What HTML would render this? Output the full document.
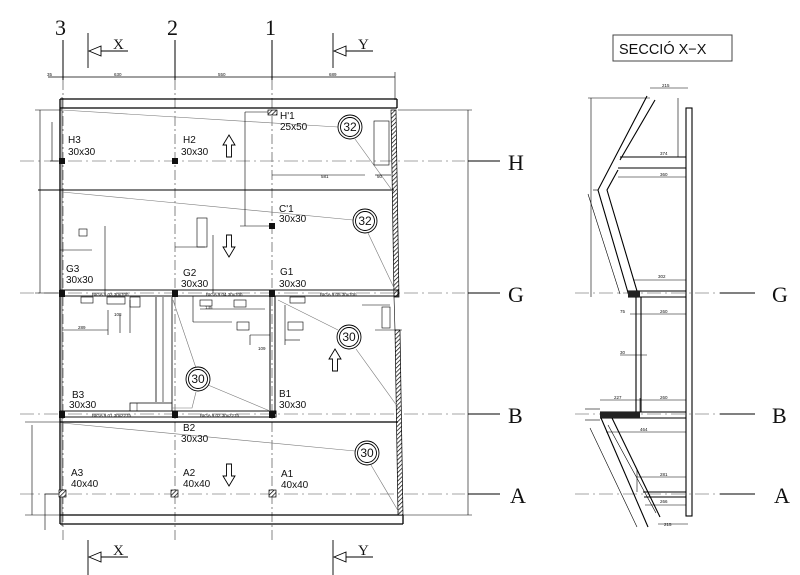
<!DOCTYPE html>
<html><head><meta charset="utf-8"><style>
html,body{margin:0;padding:0;background:#fff;}
svg{display:block;}
text{font-family:"Liberation Sans",sans-serif;fill:#111;}
.s text{font-family:"Liberation Serif",serif;}
</style></head><body>
<svg width="800" height="575" viewBox="0 0 800 575" xmlns="http://www.w3.org/2000/svg">
<defs>
<pattern id="h" width="3" height="3" patternUnits="userSpaceOnUse" patternTransform="rotate(45)">
<rect width="3" height="3" fill="#fff"/><line x1="0" y1="0" x2="0" y2="3" stroke="#000" stroke-width="1.4"/></pattern>
</defs>
<g fill="none" stroke="#000">
<g stroke-width="1">
<line x1="63" y1="40" x2="63" y2="80"/><line x1="175" y1="40" x2="175" y2="80"/><line x1="272" y1="40" x2="272" y2="80"/>
</g>
<g stroke="#666" stroke-width="0.8" stroke-dasharray="10,3,2,3">
<line x1="63" y1="80" x2="63" y2="540"/><line x1="175" y1="80" x2="175" y2="540"/><line x1="272" y1="80" x2="272" y2="540"/>
</g>
<g stroke="#888" stroke-width="0.8" stroke-dasharray="14,4,2,4">
<line x1="20" y1="161" x2="465" y2="161"/><line x1="20" y1="293" x2="465" y2="293"/><line x1="20" y1="414" x2="465" y2="414"/><line x1="20" y1="494" x2="465" y2="494"/>
<line x1="575" y1="293" x2="720" y2="293"/><line x1="575" y1="414" x2="720" y2="414"/><line x1="575" y1="494" x2="720" y2="494"/>
</g>
<g stroke-width="1">
<line x1="468" y1="161" x2="500" y2="161"/><line x1="468" y1="293" x2="500" y2="293"/><line x1="468" y1="414" x2="500" y2="414"/><line x1="468" y1="494" x2="500" y2="494"/>
<line x1="720" y1="293" x2="755" y2="293"/><line x1="720" y1="414" x2="755" y2="414"/><line x1="720" y1="494" x2="755" y2="494"/>
</g>
<g stroke-width="0.9">
<line x1="88" y1="33" x2="88" y2="68"/><path d="M89 51 L101 46 L101 56 Z"/><line x1="101" y1="51" x2="128" y2="51"/>
<line x1="333" y1="33" x2="333" y2="68"/><path d="M334 51 L346 46 L346 56 Z"/><line x1="346" y1="51" x2="373" y2="51"/>
<line x1="88" y1="540" x2="88" y2="575"/><path d="M89 557 L101 552 L101 562 Z"/><line x1="101" y1="557" x2="128" y2="557"/>
<line x1="333" y1="540" x2="333" y2="575"/><path d="M334 557 L346 552 L346 562 Z"/><line x1="346" y1="557" x2="373" y2="557"/>
</g>
<line x1="48" y1="77" x2="395" y2="77" stroke-width="0.8"/>
<line x1="395" y1="72" x2="395" y2="100" stroke-width="0.6"/>
<g stroke-width="1.3">
<line x1="60" y1="99" x2="397" y2="99"/><line x1="60" y1="108" x2="397" y2="108"/>
<line x1="60" y1="99" x2="60" y2="524"/>
<line x1="397" y1="99" x2="397" y2="108"/>
<line x1="60" y1="515" x2="402" y2="515"/><line x1="60" y1="524" x2="403" y2="524"/>
<line x1="403" y1="515" x2="403" y2="524"/>
</g>
<line x1="62" y1="97" x2="62" y2="526" stroke-width="0.6"/>
<polygon points="391,110 396,110 399,297 394,297" fill="url(#h)" stroke-width="0.7"/>
<polygon points="395,330 400,330 403,515 398,515" fill="url(#h)" stroke-width="0.7"/>
<line x1="394" y1="297" x2="395" y2="330" stroke-width="0.6"/>
<line x1="38" y1="190" x2="394" y2="190" stroke-width="1"/>
<rect x="60" y="290" width="338" height="6" stroke-width="0.9"/>
<rect x="60" y="411" width="216" height="6" stroke-width="0.9"/>
<line x1="60" y1="422" x2="398" y2="422" stroke-width="1.2"/>
<line x1="270" y1="296" x2="270" y2="414" stroke-width="1"/><line x1="275" y1="296" x2="275" y2="414" stroke-width="1"/>
<line x1="156" y1="297" x2="156" y2="402" stroke-width="0.8"/><line x1="163" y1="297" x2="163" y2="402" stroke-width="0.6"/><line x1="172" y1="297" x2="172" y2="411" stroke-width="0.8"/>
<polyline points="130,411 130,403 172,403" stroke-width="0.7"/><line x1="137" y1="403" x2="137" y2="411" stroke-width="0.5"/>
<g stroke="#777" stroke-width="0.6">
<line x1="62" y1="110" x2="338" y2="127"/><line x1="355" y1="139" x2="394" y2="193"/>
<line x1="62" y1="192" x2="353" y2="220"/><line x1="368" y1="233" x2="396" y2="292"/>
<line x1="278" y1="300" x2="338" y2="330"/><line x1="356" y1="349" x2="400" y2="410"/>
<line x1="173" y1="300" x2="196" y2="368"/><line x1="208" y1="385" x2="270" y2="411"/><polyline points="196,392 192,408 172,408"/>
<line x1="62" y1="423" x2="355" y2="451"/><line x1="371" y1="465" x2="400" y2="514"/>
</g>
<g stroke-width="0.6">
<line x1="40" y1="110" x2="40" y2="293"/><line x1="35" y1="110" x2="62" y2="110"/><line x1="35" y1="293" x2="60" y2="293"/>
<line x1="52" y1="122" x2="52" y2="161"/><line x1="50" y1="161" x2="62" y2="161"/>
<line x1="245" y1="112" x2="245" y2="226"/><line x1="245" y1="112" x2="268" y2="112"/><line x1="240" y1="226" x2="270" y2="226"/>
<line x1="272" y1="175" x2="365" y2="175"/><line x1="375" y1="175" x2="391" y2="175"/>
<rect x="374" y="121" width="15" height="44"/>
<line x1="105" y1="226" x2="105" y2="293"/><line x1="60" y1="250" x2="92" y2="250"/><rect x="79" y="229" width="8" height="7"/>
<line x1="213" y1="235" x2="213" y2="293"/><line x1="175" y1="247" x2="205" y2="247"/><rect x="197" y="218" width="10" height="29"/>
<line x1="468" y1="110" x2="468" y2="515"/><line x1="398" y1="110" x2="472" y2="110"/><line x1="403" y1="515" x2="472" y2="515"/>
<line x1="32" y1="425" x2="32" y2="515"/><line x1="25" y1="422" x2="60" y2="422"/><line x1="25" y1="515" x2="60" y2="515"/>
<line x1="45" y1="494" x2="60" y2="494"/><line x1="45" y1="494" x2="45" y2="530"/>
<line x1="62" y1="330" x2="108" y2="330"/><line x1="108" y1="310" x2="108" y2="335"/>
<line x1="120" y1="315" x2="120" y2="333"/><line x1="130" y1="300" x2="130" y2="333"/>
<rect x="107" y="297" width="18" height="7"/><rect x="130" y="297" width="10" height="10"/><rect x="81" y="297" width="12" height="6"/>
<line x1="193" y1="322" x2="232" y2="322"/><line x1="193" y1="296" x2="193" y2="322"/>
<line x1="200" y1="309" x2="265" y2="309"/><rect x="234" y="300" width="12" height="7"/><rect x="200" y="300" width="12" height="6"/>
<rect x="237" y="322" width="12" height="8"/><line x1="250" y1="335" x2="270" y2="335"/><line x1="250" y1="335" x2="250" y2="345"/>
<rect x="290" y="297" width="15" height="6"/><rect x="288" y="322" width="15" height="8"/>
<line x1="285" y1="340" x2="300" y2="340"/><line x1="285" y1="305" x2="285" y2="345"/>
<rect x="382" y="307" width="8" height="21"/><line x1="362" y1="305" x2="390" y2="305"/><line x1="375" y1="330" x2="402" y2="330"/>
</g>
<g stroke-width="0.9" fill="#fff">
<circle cx="350" cy="127" r="12"/><circle cx="350" cy="127" r="9.5"/>
<circle cx="365" cy="221" r="12"/><circle cx="365" cy="221" r="9.5"/>
<circle cx="349" cy="337" r="12"/><circle cx="349" cy="337" r="9.5"/>
<circle cx="198" cy="379" r="12"/><circle cx="198" cy="379" r="9.5"/>
<circle cx="367" cy="453" r="12"/><circle cx="367" cy="453" r="9.5"/>
</g>
<g stroke-width="0.9" fill="#fff">
<path d="M229 135 L235 145 L231.5 145 L231.5 157 L226.5 157 L226.5 145 L223 145 Z"/>
<path d="M229 257 L235 247 L231.5 247 L231.5 235 L226.5 235 L226.5 247 L223 247 Z"/>
<path d="M335 349 L341 359 L337.5 359 L337.5 371 L332.5 371 L332.5 359 L329 359 Z"/>
<path d="M229 486 L235 476 L231.5 476 L231.5 464 L226.5 464 L226.5 476 L223 476 Z"/>
</g>
<g fill="#111" stroke="none">
<rect x="59" y="158" width="6" height="6"/><rect x="172" y="158" width="6" height="6"/><rect x="269" y="223" width="6" height="6"/>
<rect x="59" y="290" width="6" height="7"/><rect x="172" y="290" width="6" height="7"/><rect x="269" y="290" width="6" height="7"/>
<rect x="59" y="411" width="6" height="7"/><rect x="172" y="411" width="6" height="7"/><rect x="269" y="411" width="6" height="7"/>
</g>
<g fill="url(#h)" stroke-width="0.7">
<rect x="59" y="490" width="7" height="7"/><rect x="171" y="490" width="7" height="7"/><rect x="269" y="490" width="7" height="7"/>
<rect x="268" y="110" width="9" height="5"/>
</g>
<rect x="613" y="35" width="119" height="26" stroke-width="1" stroke="#444"/>
<g stroke-width="1.1">
<rect x="686" y="108" width="6" height="408"/>
<polyline points="647,96 598,190 629,296"/>
<polyline points="655,100 620,160"/>
<line x1="620" y1="157" x2="686" y2="157"/><line x1="618" y1="168" x2="686" y2="168"/>
<polyline points="618,170 607,190 637,291"/>
<line x1="628" y1="291" x2="686" y2="291"/><line x1="628" y1="297" x2="686" y2="297"/>
<line x1="636" y1="297" x2="636" y2="412"/><line x1="641" y1="297" x2="641" y2="412"/>
<line x1="600" y1="412" x2="686" y2="412"/><line x1="600" y1="418" x2="686" y2="418"/>
<line x1="601" y1="418" x2="648" y2="527"/><line x1="612" y1="418" x2="660" y2="517"/>
<line x1="643" y1="492" x2="686" y2="492"/><line x1="644" y1="497" x2="686" y2="497"/>
</g>
<rect x="628" y="291" width="12" height="6" fill="#222" stroke="none"/>
<rect x="600" y="412" width="40" height="6" fill="#222" stroke="none"/>
<g stroke-width="0.6">
<line x1="591" y1="98" x2="591" y2="297"/><line x1="588" y1="98" x2="650" y2="98"/>
<line x1="593" y1="190" x2="598" y2="190"/>
<line x1="678" y1="98" x2="678" y2="157"/><line x1="650" y1="88" x2="688" y2="88"/>
<line x1="618" y1="177" x2="686" y2="177"/><line x1="633" y1="280" x2="686" y2="280"/>
<line x1="630" y1="314" x2="686" y2="314"/><line x1="620" y1="355" x2="647" y2="355"/>
<line x1="600" y1="400" x2="686" y2="400"/><line x1="640" y1="398" x2="640" y2="412"/>
<line x1="606" y1="432" x2="686" y2="432"/><line x1="637" y1="477" x2="686" y2="477"/><line x1="637" y1="470" x2="637" y2="492"/>
<line x1="645" y1="505" x2="686" y2="505"/><line x1="658" y1="524" x2="688" y2="524"/>
<line x1="590" y1="428" x2="637" y2="527"/><line x1="608" y1="425" x2="656" y2="513"/>
<line x1="585" y1="409" x2="600" y2="409"/><line x1="585" y1="420" x2="600" y2="420"/>
<line x1="588" y1="194" x2="620" y2="294"/>
</g>
</g>
<g class="s" font-size="22">
<text x="55" y="35">3</text><text x="167" y="35">2</text><text x="265" y="35">1</text>
<text x="508" y="170">H</text><text x="508" y="302">G</text><text x="508" y="423">B</text><text x="510" y="503">A</text>
<text x="772" y="302">G</text><text x="772" y="423">B</text><text x="774" y="503">A</text>
</g>
<g class="s" font-size="15">
<text x="113" y="49">X</text><text x="358" y="49">Y</text>
<text x="113" y="555">X</text><text x="358" y="555">Y</text>
</g>
<text x="619" y="54" font-size="14.5">SECCIÓ X−X</text>
<g font-size="10">
<text x="68" y="143">H3</text><text x="68" y="155">30x30</text>
<text x="183" y="143">H2</text><text x="181" y="155">30x30</text>
<text x="280" y="119">H'1</text><text x="280" y="130">25x50</text>
<text x="279" y="212">C'1</text><text x="279" y="222">30x30</text>
<text x="66" y="272">G3</text><text x="66" y="283">30x30</text>
<text x="183" y="276">G2</text><text x="181" y="287">30x30</text>
<text x="280" y="275">G1</text><text x="279" y="287">30x30</text>
<text x="72" y="398">B3</text><text x="69" y="408">30x30</text>
<text x="279" y="397">B1</text><text x="279" y="408">30x30</text>
<text x="183" y="431">B2</text><text x="181" y="442">30x30</text>
<text x="71" y="476">A3</text><text x="71" y="487">40x40</text>
<text x="183" y="476">A2</text><text x="183" y="487">40x40</text>
<text x="281" y="477">A1</text><text x="281" y="488">40x40</text>
</g>
<g font-size="12" text-anchor="middle">
<text x="350" y="131">32</text><text x="365" y="225">32</text>
<text x="349" y="341">30</text><text x="198" y="383">30</text><text x="367" y="457">30</text>
</g>
<g font-size="4.5">
<text x="47" y="76">35</text><text x="114" y="76">630</text><text x="218" y="76">550</text><text x="329" y="76">689</text>
<text x="92" y="296">BIGA 9.03 30x70h</text><text x="206" y="296">BIGA 9.04 30x70h</text><text x="320" y="296">BIGA 9.05 30x70h</text>
<text x="92" y="417">BIGA 9.01 30x227h</text><text x="200" y="417">BIGA 9.02 30x227h</text>
<text x="78" y="329">289</text><text x="114" y="316">108</text><text x="205" y="309">135</text><text x="258" y="350">109</text>
<text x="660" y="155">374</text><text x="660" y="176">360</text><text x="658" y="278">302</text><text x="660" y="313">260</text>
<text x="620" y="313">75</text><text x="620" y="354">30</text><text x="614" y="399">227</text><text x="660" y="399">260</text>
<text x="640" y="431">464</text><text x="660" y="476">281</text><text x="660" y="503">266</text><text x="664" y="526">215</text><text x="662" y="87">215</text>
<text x="321" y="178">581</text><text x="377" y="178">50</text>
</g>
</svg>
</body></html>
